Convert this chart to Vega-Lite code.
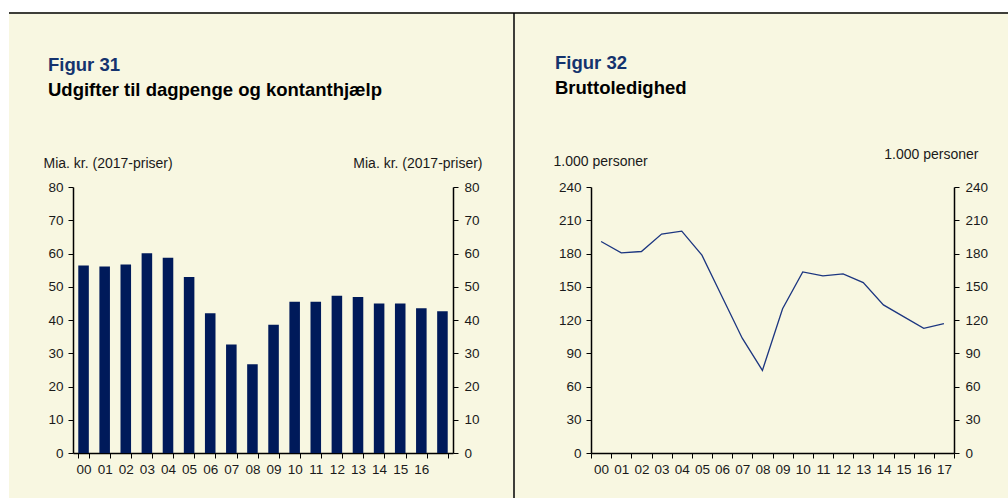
{
  "$schema": "https://vega.github.io/schema/vega-lite/v6.json",
  "autosize": {"type": "pad"},
  "padding": 0,
  "background": "#f8f7e1",
  "config": {
    "font": "Liberation Sans",
    "view": {"stroke": null},
    "axis": {
      "domainColor": "#000000",
      "domainWidth": 1.5,
      "tickColor": "#000000",
      "tickWidth": 1,
      "tickSize": 5,
      "labelFont": "Liberation Sans",
      "labelFontSize": 13.5,
      "labelColor": "#1a1a1a",
      "titleFont": "Liberation Sans",
      "titleFontSize": 14,
      "titleFontWeight": "normal",
      "titleColor": "#1a1a1a",
      "grid": false
    },
    "title": {
      "font": "Liberation Sans",
      "fontSize": 18.5,
      "fontWeight": "bold",
      "color": "#14336e",
      "subtitleFont": "Liberation Sans",
      "subtitleFontSize": 18.5,
      "subtitleFontWeight": "bold",
      "subtitleColor": "#000000",
      "subtitlePadding": 6,
      "anchor": "start",
      "frame": "group"
    }
  },
  "datasets": {
    "bars": [
      {"year": "00", "value": 56.4},
      {"year": "01", "value": 56.1},
      {"year": "02", "value": 56.7},
      {"year": "03", "value": 60.1},
      {"year": "04", "value": 58.7},
      {"year": "05", "value": 52.9},
      {"year": "06", "value": 42.0},
      {"year": "07", "value": 32.6},
      {"year": "08", "value": 26.7},
      {"year": "09", "value": 38.6},
      {"year": "10", "value": 45.5},
      {"year": "11", "value": 45.5},
      {"year": "12", "value": 47.3},
      {"year": "13", "value": 46.9},
      {"year": "14", "value": 45.0},
      {"year": "15", "value": 45.0},
      {"year": "16", "value": 43.5},
      {"year": "17", "value": 42.6}
    ],
    "line": [
      {"year": "00", "value": 190.8},
      {"year": "01", "value": 180.6},
      {"year": "02", "value": 181.8},
      {"year": "03", "value": 197.5},
      {"year": "04", "value": 200.2},
      {"year": "05", "value": 178.5},
      {"year": "06", "value": 141.0},
      {"year": "07", "value": 103.6},
      {"year": "08", "value": 74.5},
      {"year": "09", "value": 130.2},
      {"year": "10", "value": 163.4},
      {"year": "11", "value": 159.8},
      {"year": "12", "value": 161.6},
      {"year": "13", "value": 153.8},
      {"year": "14", "value": 133.6},
      {"year": "15", "value": 123.1},
      {"year": "16", "value": 112.5},
      {"year": "17", "value": 116.8}
    ],
    "frameFills": [
      {"x": -514, "x2": 494, "y": 453, "y2": 441},
      {"x": -514, "x2": -505, "y": 441, "y2": -45}
    ],
    "frameLines": [
      {"x": -505, "x2": 494, "y": 440, "y2": 440},
      {"x": 0, "x2": 0, "y": 440, "y2": -45}
    ]
  },
  "hconcat": [
    {
      "width": 380,
      "height": 266,
      "title": {"text": "Figur 31", "subtitle": "Udgifter til dagpenge og kontanthjælp", "dx": -25, "offset": 57},
      "data": {"name": "bars"},
      "encoding": {
        "x": {
          "field": "year", "type": "nominal", "sort": null,
          "scale": {"type": "band", "paddingInner": 0.5, "paddingOuter": 0.25},
          "axis": {"title": null, "labelAngle": 0, "tickBand": "extent", "labelPadding": 4,
                   "labelExpr": "datum.label == '17' ? '' : datum.label"}
        }
      },
      "layer": [
        {
          "mark": {"type": "bar", "color": "#001a5a"},
          "encoding": {
            "y": {"field": "value", "type": "quantitative",
                  "scale": {"domain": [0, 80], "nice": false},
                  "axis": {"orient": "left", "values": [0, 10, 20, 30, 40, 50, 60, 70, 80],
                           "title": "Mia. kr. (2017-priser)", "titleAngle": 0, "titleAlign": "left",
                           "titleBaseline": "alphabetic", "titleX": -30, "titleY": -20, "labelPadding": 5}}
          }
        },
        {
          "mark": {"type": "bar", "opacity": 0},
          "encoding": {
            "y": {"field": "value", "type": "quantitative",
                  "axis": {"orient": "right", "values": [0, 10, 20, 30, 40, 50, 60, 70, 80],
                           "title": "Mia. kr. (2017-priser)", "titleAngle": 0, "titleAlign": "right",
                           "titleBaseline": "alphabetic", "titleX": 29, "titleY": -20, "labelPadding": 6}}
          }
        }
      ],
      "resolve": {"axis": {"y": "independent"}}
    },
    {
      "width": 16,
      "height": 266,
      "layer": [
        {
          "data": {"name": "frameFills"},
          "mark": {"type": "rect", "color": "#ffffff"},
          "encoding": {
            "x": {"field": "x", "type": "quantitative", "scale": {"domain": [0, 16], "nice": false, "zero": false}, "axis": null},
            "x2": {"field": "x2"},
            "y": {"field": "y", "type": "quantitative", "scale": {"domain": [0, 266], "nice": false, "zero": false}, "axis": null},
            "y2": {"field": "y2"}
          }
        },
        {
          "data": {"name": "frameLines"},
          "mark": {"type": "rule", "color": "#000000", "strokeWidth": 1.5},
          "encoding": {
            "x": {"field": "x", "type": "quantitative", "axis": null},
            "x2": {"field": "x2"},
            "y": {"field": "y", "type": "quantitative", "axis": null},
            "y2": {"field": "y2"}
          }
        }
      ]
    },
    {
      "width": 363,
      "height": 266,
      "title": {"text": "Figur 32", "subtitle": "Bruttoledighed", "dx": -36, "offset": 50},
      "data": {"name": "line"},
      "encoding": {
        "x": {
          "field": "year", "type": "nominal", "sort": null,
          "scale": {"type": "band", "paddingInner": 0, "paddingOuter": 0},
          "axis": {"title": null, "labelAngle": 0, "tickBand": "extent", "labelPadding": 4}
        }
      },
      "layer": [
        {
          "mark": {"type": "line", "color": "#1c3680", "strokeWidth": 1.3},
          "encoding": {
            "y": {"field": "value", "type": "quantitative",
                  "scale": {"domain": [0, 240], "nice": false},
                  "axis": {"orient": "left", "values": [0, 30, 60, 90, 120, 150, 180, 210, 240],
                           "title": "1.000 personer", "titleAngle": 0, "titleAlign": "left",
                           "titleBaseline": "alphabetic", "titleX": -38, "titleY": -22, "labelPadding": 5}}
          }
        },
        {
          "mark": {"type": "line", "opacity": 0},
          "encoding": {
            "y": {"field": "value", "type": "quantitative",
                  "axis": {"orient": "right", "values": [0, 30, 60, 90, 120, 150, 180, 210, 240],
                           "title": "1.000 personer", "titleAngle": 0, "titleAlign": "right",
                           "titleBaseline": "alphabetic", "titleX": 24, "titleY": -29, "labelPadding": 6}}
          }
        }
      ],
      "resolve": {"axis": {"y": "independent"}}
    }
  ],
  "spacing": 61,
  "bounds": "flush"
}
